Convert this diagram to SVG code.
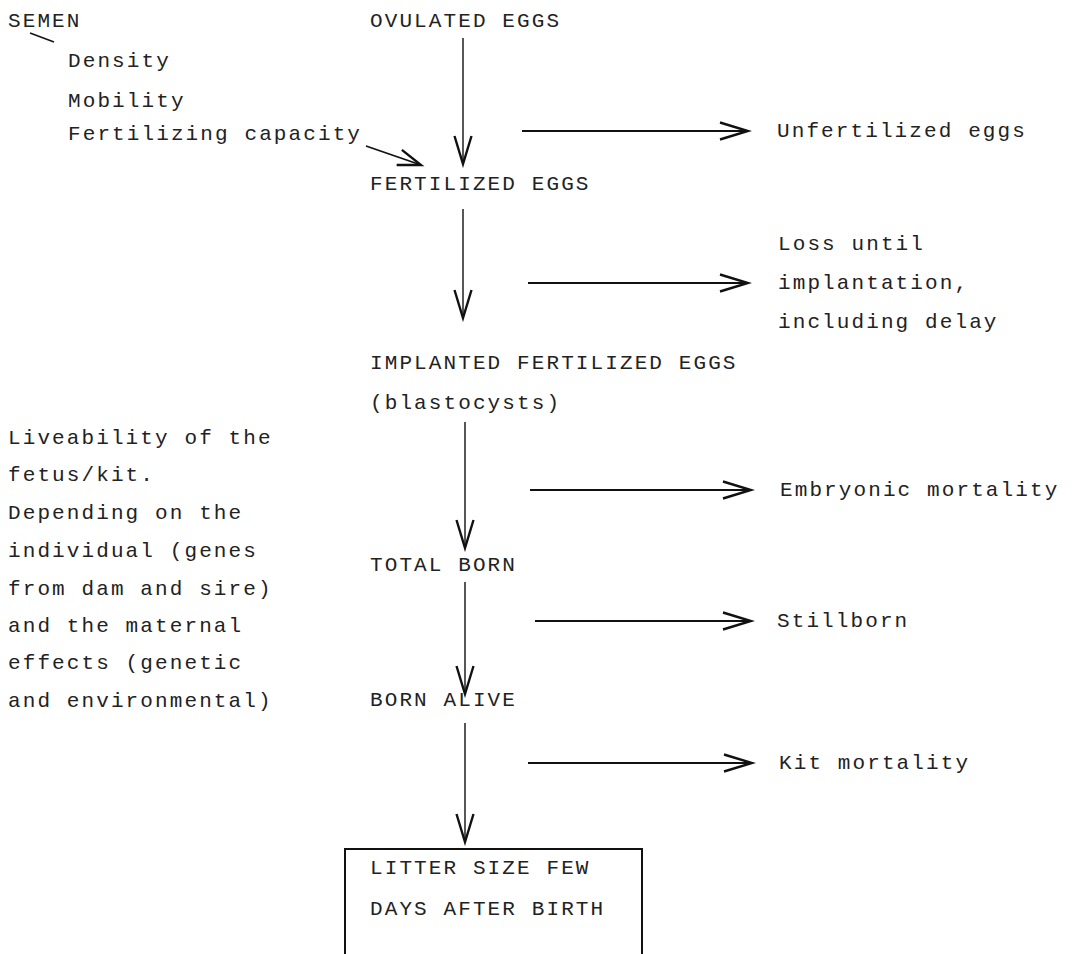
<svg xmlns="http://www.w3.org/2000/svg" width="1075" height="954" viewBox="0 0 1075 954">
<style>
text{font-family:"Liberation Mono","DejaVu Sans Mono",monospace;font-size:21px;letter-spacing:2.1px;fill:#222}
.ln{stroke:#111;stroke-width:1.4;fill:none}
.hz{stroke:#111;stroke-width:1.8;fill:none}
</style>
<defs>
<marker id="ah" viewBox="-32 -12 36 24" markerWidth="36" markerHeight="24" refX="0" refY="0" orient="auto" markerUnits="userSpaceOnUse">
<path d="M-28,-8.5 L0,0 L-28,8.5" fill="none" stroke="#111" stroke-width="2.4"/>
</marker>
<marker id="ahs" viewBox="-28 -12 32 24" markerWidth="32" markerHeight="24" refX="0" refY="0" orient="auto" markerUnits="userSpaceOnUse">
<path d="M-23,-8 L0,0 L-23,8" fill="none" stroke="#111" stroke-width="2.4"/>
</marker>
</defs>
<rect width="1075" height="954" fill="#fff"/>
<g id="semen">
<text x="8" y="27">SEMEN</text>
<text x="68" y="67">Density</text>
<text x="68" y="107">Mobility</text>
<text x="68" y="140">Fertilizing capacity</text>
</g>
<g id="ovulated"><text x="370" y="27">OVULATED EGGS</text></g>
<g id="fertilized"><text x="370" y="190">FERTILIZED EGGS</text></g>
<g id="unfertilized"><text x="777" y="137">Unfertilized eggs</text></g>
<g id="loss">
<text x="778" y="250">Loss until</text>
<text x="778" y="289">implantation,</text>
<text x="778" y="328">including delay</text>
</g>
<g id="implanted">
<text x="370" y="369">IMPLANTED FERTILIZED EGGS</text>
<text x="370" y="409">(blastocysts)</text>
</g>
<g id="embryonic"><text x="780" y="496">Embryonic mortality</text></g>
<g id="liveability">
<text x="8" y="444">Liveability of the</text>
<text x="8" y="481">fetus/kit.</text>
<text x="8" y="519">Depending on the</text>
<text x="8" y="557">individual (genes</text>
<text x="8" y="595">from dam and sire)</text>
<text x="8" y="632">and the maternal</text>
<text x="8" y="669">effects (genetic</text>
<text x="8" y="707">and environmental)</text>
</g>
<g id="totalborn"><text x="370" y="571">TOTAL BORN</text></g>
<g id="stillborn"><text x="777" y="627">Stillborn</text></g>
<g id="bornalive"><text x="370" y="706">BORN ALIVE</text></g>
<g id="kitmortality"><text x="779" y="769">Kit mortality</text></g>
<g id="litter">
<rect x="345" y="849" width="297" height="130" fill="none" stroke="#111" stroke-width="2"/>
<text x="370" y="874">LITTER SIZE FEW</text>
<text x="370" y="915">DAYS AFTER BIRTH</text>
</g>
<g id="connectors">
<line class="ln" x1="30" y1="33" x2="54" y2="42"/>
<line class="hz" x1="366" y1="146" x2="421" y2="165" marker-end="url(#ahs)"/>
<line class="ln" x1="463" y1="38" x2="463" y2="164" marker-end="url(#ah)"/>
<line class="hz" x1="522" y1="131" x2="748" y2="131" marker-end="url(#ah)"/>
<line class="ln" x1="463" y1="209" x2="463" y2="318" marker-end="url(#ah)"/>
<line class="hz" x1="528" y1="283" x2="748" y2="283" marker-end="url(#ah)"/>
<line class="ln" x1="465" y1="422" x2="465" y2="548" marker-end="url(#ah)"/>
<line class="hz" x1="530" y1="490" x2="751" y2="490" marker-end="url(#ah)"/>
<line class="ln" x1="465" y1="582" x2="465" y2="694" marker-end="url(#ah)"/>
<line class="hz" x1="535" y1="621" x2="751" y2="621" marker-end="url(#ah)"/>
<line class="ln" x1="465" y1="723" x2="465" y2="842" marker-end="url(#ah)"/>
<line class="hz" x1="528" y1="763" x2="752" y2="763" marker-end="url(#ah)"/>
</g>
</svg>
